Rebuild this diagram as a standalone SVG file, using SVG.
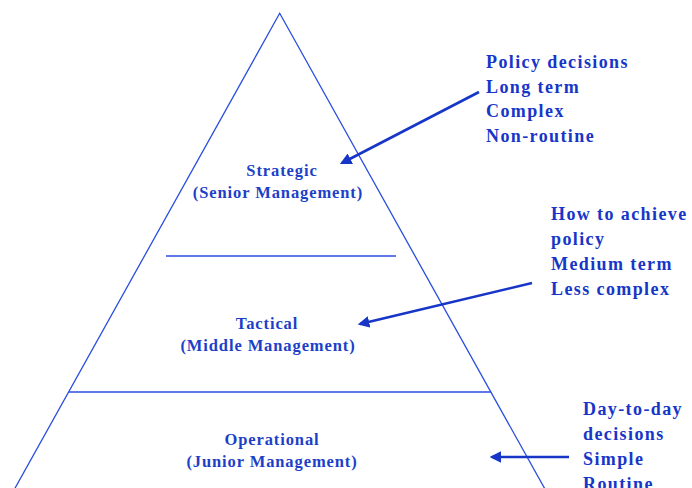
<svg xmlns="http://www.w3.org/2000/svg" width="692" height="488" viewBox="0 0 692 488">
  <style>
    .edge { stroke: #2a4ee0; stroke-width: 1.3; fill: none; }
    .arrow { stroke: #1736c8; stroke-width: 2.6; fill: none; marker-end: url(#head); }
    .lvl { font-family: "Liberation Serif", "Times New Roman", serif; font-size: 16.5px; font-weight: bold; fill: #1d3fc8; text-anchor: middle; letter-spacing: 0.9px; }
    .note { font-family: "Liberation Serif", "Times New Roman", serif; font-size: 18px; font-weight: bold; fill: #1736c8; letter-spacing: 1.4px; }
  </style>
  <defs>
    <marker id="head" viewBox="0 0 10 10" refX="8" refY="5" markerWidth="4.5" markerHeight="4.5" orient="auto" markerUnits="strokeWidth">
      <path d="M0,0 L10,5 L0,10 z" fill="#1736c8"/>
    </marker>
  </defs>
  <rect width="692" height="488" fill="#ffffff"/>

  <!-- pyramid outline and tier dividers -->
  <g id="pyramid">
    <polyline class="edge" points="14,490 279.7,13.3 545.5,490"/>
    <line class="edge" x1="166" y1="256" x2="396" y2="256"/>
    <line class="edge" x1="69" y1="392" x2="491" y2="392"/>
  </g>

  <g id="strategic">
    <text class="lvl" x="282" y="176">Strategic</text>
    <text class="lvl" x="278" y="198">(Senior Management)</text>
  </g>
  <g id="tactical">
    <text class="lvl" x="267" y="329">Tactical</text>
    <text class="lvl" x="268" y="351">(Middle Management)</text>
  </g>
  <g id="operational">
    <text class="lvl" x="272" y="445">Operational</text>
    <text class="lvl" x="272" y="467">(Junior Management)</text>
  </g>

  <g id="strategic-notes">
    <text class="note" x="486" y="68">Policy decisions</text>
    <text class="note" x="486" y="93">Long term</text>
    <text class="note" x="486" y="117">Complex</text>
    <text class="note" x="486" y="142">Non-routine</text>
  </g>
  <g id="tactical-notes">
    <text class="note" x="551" y="220">How to achieve</text>
    <text class="note" x="551" y="245">policy</text>
    <text class="note" x="551" y="270">Medium term</text>
    <text class="note" x="551" y="295">Less complex</text>
  </g>
  <g id="operational-notes">
    <text class="note" x="583" y="415">Day-to-day</text>
    <text class="note" x="583" y="440">decisions</text>
    <text class="note" x="583" y="465">Simple</text>
    <text class="note" x="583" y="490">Routine</text>
  </g>

  <g id="connectors">
    <line class="arrow" x1="479" y1="92" x2="342" y2="163"/>
    <line class="arrow" x1="532" y1="283" x2="360" y2="324"/>
    <line class="arrow" x1="569" y1="457" x2="492" y2="457"/>
  </g>
</svg>
